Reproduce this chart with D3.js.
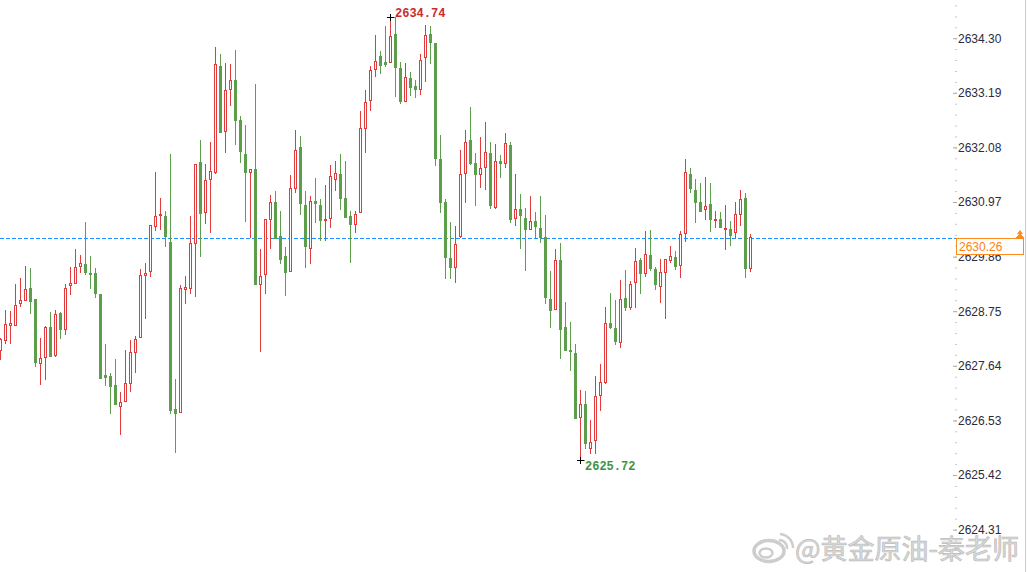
<!DOCTYPE html>
<html><head><meta charset="utf-8">
<script src="https://cdnjs.cloudflare.com/ajax/libs/d3/7.8.5/d3.min.js"></script>
<style>html,body{margin:0;padding:0;background:#fff;overflow:hidden}svg{display:block}</style>
</head><body>
<svg id="chart" width="1028" height="572"></svg>
<script>
// ---- data ----
const opens  = [2627.96,2628.16,2628.47,2628.47,2628.91,2628.98,2629.23,2629.00,2627.69,2627.81,2628.43,2627.86,2628.71,2628.38,2629.28,2629.32,2629.67,2629.71,2629.53,2629.53,2629.10,2627.45,2627.44,2627.25,2626.83,2626.93,2627.30,2627.93,2628.23,2629.49,2629.56,2630.49,2630.70,2630.69,2630.15,2626.76,2626.70,2629.21,2629.23,2630.13,2631.78,2630.76,2631.44,2631.57,2633.74,2632.42,2633.26,2633.45,2632.64,2631.95,2631.57,2631.64,2629.30,2629.50,2630.63,2630.96,2630.28,2629.87,2629.57,2631.25,2632.09,2630.91,2630.03,2631.00,2630.91,2630.60,2630.64,2631.43,2631.54,2631.06,2630.69,2630.53,2630.77,2632.47,2633.04,2633.68,2633.93,2633.82,2633.82,2634.39,2633.69,2633.02,2633.49,2633.32,2633.26,2633.91,2634.39,2634.21,2631.85,2630.96,2629.84,2629.65,2630.28,2631.55,2632.23,2631.76,2631.53,2631.69,2631.97,2630.87,2631.80,2631.76,2632.13,2630.64,2630.83,2630.64,2630.43,2630.58,2630.44,2630.25,2628.99,2628.79,2629.80,2628.42,2627.97,2627.91,2626.60,2626.87,2625.97,2626.13,2627.04,2627.31,2628.50,2628.40,2628.13,2629.02,2628.83,2629.34,2629.79,2629.53,2629.89,2629.61,2629.27,2629.54,2629.80,2629.86,2629.68,2630.33,2631.54,2631.21,2630.96,2630.82,2630.93,2630.60,2630.62,2630.42,2630.43,2630.35,2630.73,2631.05,2629.62];
const highs  = [2628.20,2628.77,2628.75,2629.30,2629.42,2629.67,2629.63,2629.00,2628.21,2628.45,2628.74,2628.77,2628.74,2629.30,2629.65,2630.01,2629.89,2630.56,2629.87,2629.63,2629.10,2628.08,2627.50,2627.78,2627.10,2627.96,2628.16,2628.24,2629.61,2629.72,2630.50,2631.58,2631.05,2630.79,2631.95,2627.38,2629.28,2629.47,2630.69,2631.74,2632.23,2631.74,2632.18,2634.12,2633.98,2633.79,2633.78,2634.06,2632.72,2632.53,2631.64,2633.37,2630.01,2630.62,2631.12,2631.19,2630.79,2630.05,2631.52,2632.44,2632.31,2631.19,2631.09,2631.46,2631.03,2631.32,2631.72,2631.81,2631.95,2631.80,2630.79,2630.79,2632.81,2633.25,2633.74,2634.37,2634.04,2634.55,2634.74,2634.73,2633.82,2633.79,2633.62,2633.45,2633.98,2634.57,2634.54,2634.21,2632.33,2631.03,2630.56,2630.48,2632.03,2632.44,2632.91,2631.96,2632.30,2632.60,2632.18,2632.15,2631.93,2632.38,2632.18,2631.54,2631.13,2630.84,2631.09,2630.77,2631.09,2630.71,2629.57,2630.01,2630.13,2628.93,2628.53,2628.08,2627.15,2627.13,2626.53,2627.43,2627.67,2628.84,2629.11,2628.98,2629.38,2629.59,2629.36,2630.03,2629.84,2630.38,2630.40,2629.65,2629.81,2629.82,2630.07,2629.97,2630.38,2631.85,2631.67,2631.44,2631.36,2631.48,2631.36,2630.79,2630.77,2630.91,2630.58,2630.96,2631.21,2631.16,2630.32];
const lows   = [2627.78,2628.11,2628.11,2628.47,2628.85,2628.98,2628.72,2627.63,2627.27,2627.37,2627.84,2627.84,2628.21,2628.28,2629.09,2629.32,2629.55,2629.51,2629.23,2629.04,2627.40,2627.25,2626.68,2626.87,2626.26,2626.93,2627.13,2627.52,2628.23,2628.62,2629.47,2630.40,2630.42,2630.08,2626.69,2625.89,2626.70,2628.91,2629.11,2629.06,2629.88,2630.55,2630.37,2631.55,2632.40,2631.99,2632.94,2632.14,2631.79,2630.58,2630.26,2629.30,2627.94,2629.11,2630.03,2630.23,2629.72,2629.08,2629.57,2631.18,2630.73,2629.65,2629.74,2630.56,2630.20,2630.20,2630.47,2631.21,2630.82,2630.67,2629.76,2630.37,2630.77,2631.99,2632.84,2633.54,2633.60,2633.74,2633.82,2633.13,2632.98,2633.02,2633.15,2633.10,2633.17,2633.43,2633.80,2631.72,2630.77,2629.43,2629.42,2629.34,2630.26,2630.98,2631.74,2630.90,2631.28,2631.23,2630.84,2630.84,2631.48,2631.69,2630.57,2630.51,2630.03,2629.59,2630.43,2630.26,2630.16,2628.91,2628.42,2628.79,2627.79,2627.97,2627.55,2626.58,2625.72,2625.96,2625.86,2625.87,2626.75,2627.29,2628.40,2628.09,2628.02,2628.78,2628.80,2628.83,2629.11,2629.47,2629.59,2629.21,2628.93,2628.62,2629.76,2629.61,2629.44,2630.18,2631.18,2630.57,2630.79,2630.62,2630.39,2630.47,2630.46,2630.01,2630.10,2630.26,2630.50,2629.45,2629.57];
const closes = [2628.18,2628.48,2628.50,2628.87,2628.97,2629.21,2628.96,2627.72,2627.80,2628.43,2627.84,2628.69,2628.38,2629.23,2629.33,2629.64,2629.72,2629.55,2629.50,2629.13,2627.40,2627.42,2627.23,2626.87,2626.90,2627.30,2627.93,2628.18,2629.49,2629.52,2630.50,2630.68,2630.73,2630.28,2626.74,2626.69,2629.22,2629.24,2630.14,2631.74,2630.74,2631.42,2631.60,2633.77,2632.40,2633.25,2633.45,2632.64,2632.01,2631.57,2631.64,2629.30,2629.46,2630.62,2630.98,2630.23,2629.82,2629.54,2631.25,2632.03,2630.94,2630.08,2631.00,2630.94,2630.60,2630.63,2631.50,2631.55,2631.06,2630.67,2630.53,2630.73,2632.47,2633.00,2633.65,2633.83,2633.76,2633.78,2634.35,2633.71,2633.03,2633.51,2633.30,2633.26,2633.85,2634.37,2634.23,2631.86,2630.96,2629.86,2629.65,2630.11,2631.54,2632.18,2631.77,2631.53,2631.66,2631.99,2630.90,2631.80,2631.76,2632.16,2630.62,2630.83,2630.70,2630.43,2630.58,2630.49,2630.25,2629.03,2628.77,2629.79,2628.38,2627.97,2627.94,2626.58,2626.87,2626.07,2626.09,2627.03,2627.31,2628.52,2628.42,2628.15,2629.00,2628.83,2629.30,2629.77,2629.53,2629.91,2629.63,2629.30,2629.54,2629.82,2629.88,2629.67,2630.31,2631.57,2631.26,2630.98,2630.79,2630.89,2630.63,2630.62,2630.46,2630.45,2630.29,2630.73,2631.03,2629.62,2630.26];
const priceTicks = [2634.30,2633.19,2632.08,2630.97,2629.86,2628.75,2627.64,2626.53,2625.42,2624.31];
const currentPrice = 2630.26;
const highLabel = "2634.74", lowLabel = "2625.72";
const watermark = "@黄金原油-秦老师";

// ---- drawing ----
const svg = d3.select("#chart");
const W = 1028, H = 572;
const n = closes.length;
const x = d3.scaleLinear().domain([0, n - 1]).range([0.5, 5 * (n - 1) + 0.5]);
const y = d3.scaleLinear().domain([2630.97, 2629.86]).range([202, 256.6]);

const RED = "#e23b3b", GREEN = "#5c9e4c";

// current price dashed line
const cy = Math.round(y(currentPrice)) + 1;
svg.append("line")
  .attr("x1", 0).attr("x2", 956)
  .attr("y1", cy + 0.5).attr("y2", cy + 0.5)
  .attr("stroke", "#1e90ff").attr("stroke-width", 1).attr("stroke-dasharray", "4,2")
  .attr("shape-rendering", "crispEdges");

const idx = d3.range(n);
const g = svg.append("g");
const c = g.selectAll("g.c").data(idx).join("g").attr("class", "c");
c.append("line")
  .attr("x1", i => x(i)).attr("x2", i => x(i))
  .attr("y1", i => Math.round(y(highs[i])))
  .attr("y2", i => Math.round(y(lows[i])) + 1)
  .attr("stroke", i => closes[i] >= opens[i] ? RED : GREEN)
  .attr("stroke-width", 1);
c.append("rect")
  .attr("x", i => closes[i] >= opens[i] ? x(i) - 1 : x(i) - 1.5)
  .attr("width", i => closes[i] >= opens[i] ? 2 : 3)
  .attr("y", i => {
    const t = Math.round(y(Math.max(opens[i], closes[i])));
    return closes[i] >= opens[i] ? t + 0.5 : t;
  })
  .attr("height", i => {
    const t = Math.round(y(Math.max(opens[i], closes[i])));
    const b = Math.round(y(Math.min(opens[i], closes[i])));
    return Math.max(closes[i] >= opens[i] ? b - t : b - t + 1, 1);
  })
  .attr("fill", i => closes[i] >= opens[i] ? "#fff" : GREEN)
  .attr("stroke", i => closes[i] >= opens[i] ? RED : "none")
  .attr("stroke-width", 1);

// high / low markers
const hiI = highs.indexOf(d3.max(highs)), loI = lows.indexOf(d3.min(lows));
function cross(px, py) {
  svg.append("path").attr("d", `M${px-3.5},${py+0.5}H${px+4}M${px},${py-3}V${py+4}`)
    .attr("stroke", "#000").attr("stroke-width", 1).attr("fill", "none");
}
const hx = x(hiI), hy = Math.round(y(highs[hiI]));
cross(hx, hy);
svg.append("text").attr("x", hx + 4.5).attr("y", hy - 0.5).text(highLabel)
  .attr("font-family", "Liberation Mono, monospace").attr("font-weight", "bold")
  .attr("font-size", 12).attr("fill", "#cc2b2b");
const lx = x(loI), ly = Math.round(y(lows[loI]));
cross(lx, ly);
svg.append("text").attr("x", lx + 4.5).attr("y", ly + 10).text(lowLabel)
  .attr("font-family", "Liberation Mono, monospace").attr("font-weight", "bold")
  .attr("font-size", 12).attr("fill", "#3f9340");

// right axis
const step = (priceTicks[0] - priceTicks[1]) / 5;
const minor = d3.range(0, 60).map(k => priceTicks[priceTicks.length - 1] - step + k * step)
  .filter(v => y(v) > 0 && y(v) < H);
const minorAxis = d3.axisRight(y).tickValues(minor).tickSize(2).tickFormat("");
svg.append("g").attr("transform", "translate(955,0)").call(minorAxis)
  .call(s => s.select(".domain").remove())
  .call(s => s.selectAll("line").attr("stroke", "#c8c8c8"));
const axis = d3.axisRight(y).tickValues(priceTicks).tickSize(4).tickPadding(1)
  .tickFormat(d => d.toFixed(2));
svg.append("g").attr("transform", "translate(953,0)").call(axis)
  .call(s => s.select(".domain").remove())
  .call(s => s.selectAll("line").attr("stroke", "#aaaaaa"))
  .call(s => s.selectAll("text").attr("font-family", "Liberation Sans, Arial, sans-serif")
    .attr("font-size", 12).attr("fill", "#2b2b3a"));

// separator
svg.append("line").attr("x1", 1025.5).attr("x2", 1025.5).attr("y1", 0).attr("y2", H)
  .attr("stroke", "#c9ccd3");

// current price box
svg.append("rect").attr("x", 956.5).attr("y", cy + 0.5).attr("width", 67).attr("height", 16)
  .attr("fill", "#fff").attr("stroke", "#ff8a1c");
svg.append("text").attr("x", 959).attr("y", cy + 13).text(currentPrice.toFixed(2))
  .attr("font-family", "Liberation Sans, Arial, sans-serif").attr("font-size", 12).attr("fill", "#ff7f0e");
svg.append("path").attr("d", `M1020,${cy-8}L1023,${cy-4}H1017Z M1020,${cy-5}L1023.5,${cy-1}H1016.5Z M1016,${cy-1}h8v1.5h-8Z`).attr("fill", "#ff8a1c");

// watermark
const wm = svg.append("g");
wm.append("ellipse").attr("cx", 769).attr("cy", 551).attr("rx", 15).attr("ry", 10.5)
  .attr("fill", "none").attr("stroke", "#cdcdcd").attr("stroke-width", 3.5);
wm.append("ellipse").attr("cx", 766).attr("cy", 553).attr("rx", 6.5).attr("ry", 4.5)
  .attr("fill", "none").attr("stroke", "#cdcdcd").attr("stroke-width", 2.5);
wm.append("path").attr("d", "M779,540 A8,8 0 0 1 787,549").attr("fill", "none").attr("stroke", "#cdcdcd").attr("stroke-width", 2.5);
wm.append("path").attr("d", "M780,534 A14,14 0 0 1 793,548").attr("fill", "none").attr("stroke", "#cdcdcd").attr("stroke-width", 2.5);
wm.append("text").attr("x", 795).attr("y", 559).text(watermark)
  .attr("font-family", "Noto Sans CJK SC, sans-serif").attr("font-size", 27)
  .attr("fill", "#dadada").attr("stroke", "#bdbdbd").attr("stroke-width", 0.7);
</script>
</body></html>
